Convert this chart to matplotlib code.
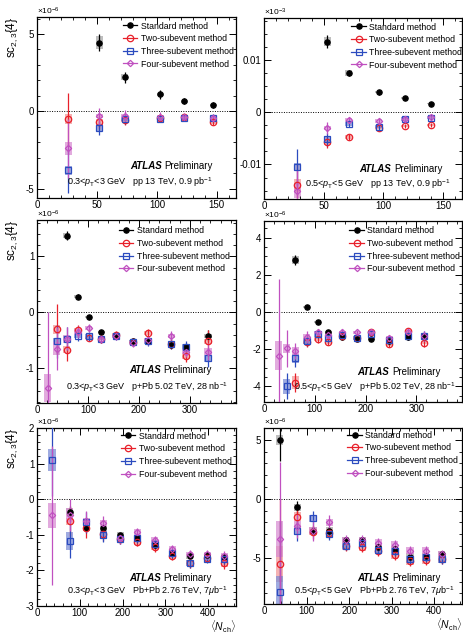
import numpy as np
import matplotlib
matplotlib.use('Agg')
import matplotlib.pyplot as plt
from matplotlib.ticker import MultipleLocator, FuncFormatter

plt.rcParams['font.family'] = ['Liberation Sans', 'DejaVu Sans']
plt.rcParams['axes.unicode_minus'] = False
plt.rcParams['mathtext.fontset'] = 'custom'
plt.rcParams['mathtext.rm'] = 'Liberation Sans'
plt.rcParams['mathtext.it'] = 'Liberation Sans:italic'

nan = np.nan

# ---- pp 13 TeV, 0.3<pT<3 GeV (x1e-6)
nch1 = [26, 52, 73, 103, 123, 147]
std1 = [nan, 4.45, 2.2, 1.1, 0.65, 0.4]
std1_stat = [nan, 0.55, 0.35, 0.3, 0.2, 0.2]
std1_sys = [nan, 0.4, 0.2, 0.1, 0.08, 0.08]
two1 = [-0.5, -0.7, -0.55, -0.4, -0.35, -0.7]
two1_stat = [1.7, 0.45, 0.3, 0.2, 0.2, 0.2]
two1_sys = [0.3, 0.2, 0.15, 0.1, 0.1, 0.1]
three1 = [-3.8, -1.05, -0.5, -0.5, -0.4, -0.4]
three1_stat = [1.45, 0.45, 0.3, 0.2, 0.2, 0.2]
three1_sys = [0.3, 0.25, 0.15, 0.1, 0.1, 0.1]
four1 = [-2.4, -0.3, -0.3, -0.35, -0.35, -0.4]
four1_stat = [1.9, 0.55, 0.4, 0.3, 0.25, 0.2]
four1_sys = [0.4, 0.15, 0.1, 0.1, 0.1, 0.1]

# ---- pp 13 TeV, 0.5<pT<5 GeV (x1e-3)
nch2 = [28, 53, 71, 96, 118, 140]
std2 = [nan, 0.0135, 0.0075, 0.0038, 0.0027, 0.0016]
std2_stat = [nan, 0.0012, 0.0006, 0.0005, 0.0004, 0.0004]
std2_sys = [nan, 0.0008, 0.0005, 0.0002, 0.0002, 0.0001]
two2 = [-0.014, -0.0057, -0.0047, -0.003, -0.0027, -0.0024]
two2_stat = [0.004, 0.0012, 0.0006, 0.0006, 0.0004, 0.0004]
two2_sys = [0.0012, 0.0005, 0.0004, 0.0003, 0.0002, 0.0002]
three2 = [-0.0105, -0.0052, -0.0022, -0.0028, -0.0013, -0.0011]
three2_stat = [0.0035, 0.0012, 0.0006, 0.0006, 0.0004, 0.0004]
three2_sys = [0.0008, 0.0006, 0.0004, 0.0003, 0.0003, 0.0003]
four2 = [-0.015, -0.003, -0.0015, -0.0017, -0.0013, -0.0009]
four2_stat = [0.004, 0.0012, 0.0006, 0.0006, 0.0004, 0.0004]
four2_sys = [0.0015, 0.0004, 0.0003, 0.0003, 0.0002, 0.0002]

# ---- p+Pb 5.02 TeV, 0.3<pT<3 GeV (x1e-6)
nch3 = [21, 39, 58, 80, 101, 126, 154, 188, 217, 263, 292, 335]
std3 = [nan, nan, 1.37, 0.28, -0.08, -0.35, -0.42, -0.52, -0.52, -0.58, -0.62, -0.42]
std3_stat = [nan, nan, 0.08, 0.05, 0.04, 0.04, 0.04, 0.05, 0.05, 0.06, 0.07, 0.1]
std3_sys = [nan, nan, 0.05, 0.03, 0.02, 0.02, 0.02, 0.02, 0.02, 0.03, 0.03, 0.04]
two3 = [nan, -0.3, -0.67, -0.32, -0.45, -0.47, -0.4, -0.53, -0.37, -0.57, -0.78, -0.52]
two3_stat = [nan, 0.45, 0.2, 0.1, 0.07, 0.07, 0.07, 0.07, 0.08, 0.08, 0.1, 0.2]
two3_sys = [nan, 0.08, 0.06, 0.04, 0.03, 0.03, 0.03, 0.03, 0.04, 0.04, 0.05, 0.05]
three3 = [nan, -0.52, -0.47, -0.42, -0.43, -0.47, -0.43, -0.53, -0.52, -0.57, -0.62, -0.82]
three3_stat = [nan, 0.3, 0.2, 0.1, 0.08, 0.07, 0.07, 0.07, 0.08, 0.08, 0.1, 0.15]
three3_sys = [nan, 0.06, 0.05, 0.04, 0.04, 0.03, 0.03, 0.04, 0.04, 0.04, 0.05, 0.06]
four3 = [-1.35, -0.65, -0.47, -0.35, -0.28, -0.47, -0.42, -0.55, -0.5, -0.42, -0.7, -0.7]
four3_stat = [1.35, 0.38, 0.2, 0.1, 0.08, 0.07, 0.07, 0.07, 0.08, 0.08, 0.1, 0.15]
four3_sys = [0.25, 0.12, 0.07, 0.05, 0.04, 0.03, 0.03, 0.03, 0.04, 0.04, 0.05, 0.06]

# ---- p+Pb 5.02 TeV, 0.5<pT<5 GeV (x1e-6)
nch4 = [29, 45, 62, 84, 106, 127, 154, 183, 211, 247, 284, 316]
std4 = [nan, nan, 2.8, 0.28, -0.55, -1.1, -1.35, -1.45, -1.45, -1.55, -1.35, -1.3]
std4_stat = [nan, nan, 0.25, 0.1, 0.1, 0.1, 0.1, 0.1, 0.12, 0.12, 0.15, 0.2]
std4_sys = [nan, nan, 0.2, 0.05, 0.05, 0.05, 0.05, 0.05, 0.05, 0.06, 0.06, 0.06]
two4 = [nan, nan, -3.8, -1.6, -1.45, -1.6, -1.3, -1.4, -1.1, -1.75, -1.05, -1.65]
two4_stat = [nan, nan, 0.5, 0.3, 0.2, 0.2, 0.2, 0.15, 0.15, 0.15, 0.2, 0.25]
two4_sys = [nan, nan, 0.35, 0.15, 0.1, 0.1, 0.1, 0.08, 0.08, 0.08, 0.1, 0.1]
three4 = [nan, -4.0, -2.5, -1.55, -1.2, -1.4, -1.25, -1.4, -1.2, -1.5, -1.3, -1.3]
three4_stat = [nan, 0.7, 0.45, 0.3, 0.2, 0.2, 0.2, 0.15, 0.15, 0.15, 0.2, 0.25]
three4_sys = [nan, 0.4, 0.25, 0.15, 0.15, 0.1, 0.1, 0.1, 0.08, 0.08, 0.1, 0.1]
four4 = [-2.35, -1.95, -2.1, -1.35, -1.1, -1.25, -1.1, -1.1, -1.1, -1.4, -1.1, -1.3]
four4_stat = [4.1, 1.0, 0.45, 0.3, 0.2, 0.2, 0.2, 0.15, 0.15, 0.15, 0.2, 0.25]
four4_sys = [0.8, 0.25, 0.2, 0.15, 0.1, 0.1, 0.1, 0.08, 0.08, 0.08, 0.1, 0.1]

# ---- Pb+Pb 2.76 TeV, 0.3<pT<3 GeV (x1e-6)
nch5 = [35, 76, 115, 155, 195, 234, 275, 316, 357, 398, 438]
std5 = [nan, -0.35, -0.8, -0.82, -1.0, -1.08, -1.3, -1.5, -1.6, -1.58, -1.62]
std5_stat = [nan, 0.15, 0.1, 0.08, 0.06, 0.06, 0.06, 0.06, 0.06, 0.07, 0.08]
std5_sys = [nan, 0.1, 0.08, 0.08, 0.07, 0.07, 0.07, 0.07, 0.07, 0.07, 0.08]
two5 = [nan, -0.62, -0.8, -0.98, -1.12, -1.2, -1.35, -1.6, -1.8, -1.65, -1.8]
two5_stat = [nan, 0.4, 0.3, 0.2, 0.15, 0.12, 0.12, 0.12, 0.12, 0.12, 0.15]
two5_sys = [nan, 0.1, 0.08, 0.08, 0.08, 0.08, 0.08, 0.08, 0.08, 0.08, 0.1]
three5 = [1.1, -1.18, -0.65, -1.0, -1.12, -1.1, -1.25, -1.52, -1.8, -1.68, -1.68]
three5_stat = [1.0, 0.48, 0.3, 0.2, 0.15, 0.12, 0.12, 0.12, 0.12, 0.12, 0.15]
three5_sys = [0.3, 0.25, 0.1, 0.1, 0.08, 0.08, 0.1, 0.1, 0.08, 0.08, 0.1]
four5 = [-0.45, -0.45, -0.62, -0.68, -1.1, -0.92, -1.15, -1.4, -1.55, -1.55, -1.6]
four5_stat = [1.95, 0.45, 0.3, 0.2, 0.15, 0.12, 0.12, 0.12, 0.12, 0.12, 0.15]
four5_sys = [0.35, 0.2, 0.1, 0.1, 0.08, 0.08, 0.08, 0.08, 0.08, 0.08, 0.1]

# ---- Pb+Pb 2.76 TeV, 0.5<pT<5 GeV (x1e-6)
nch6 = [37, 78, 115, 153, 192, 231, 268, 307, 343, 380, 417]
std6 = [5.0, -0.7, -2.7, -2.7, -3.5, -3.5, -4.1, -4.25, -4.9, -4.85, -4.7]
std6_stat = [1.8, 0.5, 0.4, 0.35, 0.3, 0.3, 0.3, 0.3, 0.3, 0.3, 0.3]
std6_sys = [0.4, 0.3, 0.3, 0.3, 0.3, 0.3, 0.3, 0.3, 0.3, 0.3, 0.3]
two6 = [-5.5, -1.5, -2.8, -2.85, -4.0, -4.1, -4.4, -4.75, -5.3, -5.2, -5.1]
two6_stat = [5.5, 0.8, 0.6, 0.5, 0.4, 0.4, 0.4, 0.4, 0.4, 0.4, 0.4]
two6_sys = [1.5, 0.4, 0.3, 0.3, 0.3, 0.3, 0.3, 0.3, 0.3, 0.3, 0.3]
three6 = [-7.9, -2.7, -1.65, -2.95, -3.95, -3.75, -4.3, -4.45, -5.1, -4.95, -5.1]
three6_stat = [6.0, 0.9, 0.6, 0.5, 0.4, 0.4, 0.4, 0.4, 0.4, 0.4, 0.4]
three6_sys = [1.4, 0.4, 0.3, 0.3, 0.3, 0.3, 0.3, 0.3, 0.3, 0.3, 0.3]
four6 = [-3.4, -2.3, -2.7, -2.0, -3.5, -3.5, -3.7, -3.9, -4.4, -4.4, -4.7]
four6_stat = [6.5, 1.0, 0.9, 0.6, 0.4, 0.4, 0.4, 0.4, 0.4, 0.4, 0.4]
four6_sys = [1.5, 0.4, 0.3, 0.3, 0.3, 0.3, 0.3, 0.3, 0.3, 0.3, 0.3]

labels = ['Standard method', 'Two-subevent method', 'Three-subevent method', 'Four-subevent method']
colors = ['black', '#e8202a', '#2b4bbf', '#c050c0']
box_colors = ['#a8a8a8', '#f29a9a', '#7f8fd6', '#d98fd3']
markers = ['o', 'o', 's', 'D']
msizes = [3.8, 4.6, 4.6, 3.2]
fills = ['black', 'none', 'none', 'none']

panels = [
    dict(nch=nch1, series=[(std1, std1_stat, std1_sys), (two1, two1_stat, two1_sys),
                           (three1, three1_stat, three1_sys), (four1, four1_stat, four1_sys)],
         xlim=(0, 166), ylim=(-5.6, 6.1), xmaj=50, xmin=10, ymaj=5, ymin=1, exp='-6',
         text1=(0.885, 0.177), text2=(0.885, 0.09), leg=(0.43, 0.975),
         cond=r'0.3<$p_{\rm T}$<3 GeV   pp 13 TeV, 0.9 pb$^{-1}$'),
    dict(nch=nch2, series=[(std2, std2_stat, std2_sys), (two2, two2_stat, two2_sys),
                           (three2, three2_stat, three2_sys), (four2, four2_stat, four2_sys)],
         xlim=(0, 166), ylim=(-0.0166, 0.018), xmaj=50, xmin=10, ymaj=0.01, ymin=0.0025, exp='-3',
         text1=(0.9, 0.166), text2=(0.94, 0.083), leg=(0.44, 0.975),
         cond=r'0.5<$p_{\rm T}$<5 GeV   pp 13 TeV, 0.9 pb$^{-1}$'),
    dict(nch=nch3, series=[(std3, std3_stat, std3_sys), (two3, two3_stat, two3_sys),
                           (three3, three3_stat, three3_sys), (four3, four3_stat, four3_sys)],
         xlim=(0, 390), ylim=(-1.62, 1.65), xmaj=100, xmin=20, ymaj=1, ymin=0.2, exp='-6',
         text1=(0.88, 0.178), text2=(0.96, 0.086), leg=(0.41, 0.965),
         cond=r'0.3<$p_{\rm T}$<3 GeV   p+Pb 5.02 TeV, 28 nb$^{-1}$'),
    dict(nch=nch4, series=[(std4, std4_stat, std4_sys), (two4, two4_stat, two4_sys),
                           (three4, three4_stat, three4_sys), (four4, four4_stat, four4_sys)],
         xlim=(0, 390), ylim=(-4.85, 4.9), xmaj=100, xmin=20, ymaj=2, ymin=0.5, exp='-6',
         text1=(0.89, 0.165), text2=(0.97, 0.08), leg=(0.43, 0.97),
         cond=r'0.5<$p_{\rm T}$<5 GeV   p+Pb 5.02 TeV, 28 nb$^{-1}$'),
    dict(nch=nch5, series=[(std5, std5_stat, std5_sys), (two5, two5_stat, two5_sys),
                           (three5, three5_stat, three5_sys), (four5, four5_stat, four5_sys)],
         xlim=(0, 465), ylim=(-3, 2), xmaj=100, xmin=20, ymaj=1, ymin=0.2, exp='-6',
         text1=(0.88, 0.156), text2=(0.955, 0.084), leg=(0.42, 0.98),
         cond=r'0.3<$p_{\rm T}$<3 GeV   Pb+Pb 2.76 TeV, 7$\mu$b$^{-1}$'),
    dict(nch=nch6, series=[(std6, std6_stat, std6_sys), (two6, two6_stat, two6_sys),
                           (three6, three6_stat, three6_sys), (four6, four6_stat, four6_sys)],
         xlim=(0, 465), ylim=(-8.9, 6.0), xmaj=100, xmin=20, ymaj=5, ymin=1, exp='-6',
         text1=(0.89, 0.147), text2=(0.96, 0.073), leg=(0.42, 0.985),
         cond=r'0.5<$p_{\rm T}$<5 GeV   Pb+Pb 2.76 TeV, 7$\mu$b$^{-1}$'),
]

# axes boxes in pixels: left, top, right, bottom
W, H = 463, 635
boxes = [(37, 17, 236, 198), (264, 18, 462, 199),
         (37, 220, 236, 403), (264, 221, 462, 402),
         (37, 428, 236, 606), (264, 428, 462, 604)]

fig = plt.figure(figsize=(W / 100, H / 100), dpi=100)

for i, (p, b) in enumerate(zip(panels, boxes)):
    ax = fig.add_axes([b[0] / W, 1 - b[3] / H, (b[2] - b[0]) / W, (b[3] - b[1]) / H])
    x = np.array(p['nch'], dtype=float)
    bw = 0.036 * p['xlim'][1]
    handles = []
    for k, (y, st, sy) in enumerate(p['series']):
        y = np.array(y, dtype=float)
        st = np.array(st, dtype=float)
        sy = np.array(sy, dtype=float)
        ok = ~np.isnan(y)
        ax.bar(x[ok], 2 * sy[ok], bottom=y[ok] - sy[ok], width=bw, color=box_colors[k],
               alpha=0.75, linewidth=0, zorder=1 + k * 0.1)
        ax.errorbar(x[ok], y[ok], yerr=st[ok], fmt='none', ecolor=colors[k], elinewidth=0.9,
                    capsize=0, zorder=3)
        ax.plot(x[ok], y[ok], ls='none', marker=markers[k], ms=msizes[k], mfc=fills[k],
                mec=colors[k], mew=0.9, zorder=4)
        handles.append(plt.Line2D([], [], color=colors[k], lw=0.9, marker=markers[k],
                                  ms=msizes[k], mfc=fills[k], mec=colors[k], mew=0.9))
    ax.axhline(0, color='black', ls=(0, (1, 1.5)), lw=0.7, zorder=2)
    ax.set_xlim(*p['xlim'])
    ax.set_ylim(*p['ylim'])
    ax.xaxis.set_major_locator(MultipleLocator(p['xmaj']))
    ax.xaxis.set_minor_locator(MultipleLocator(p['xmin']))
    ax.yaxis.set_major_locator(MultipleLocator(p['ymaj']))
    ax.yaxis.set_minor_locator(MultipleLocator(p['ymin']))
    fmt = FuncFormatter(lambda v, pos: '%g' % round(v, 6))
    ax.xaxis.set_major_formatter(fmt)
    ax.yaxis.set_major_formatter(fmt)
    ax.tick_params(which='both', direction='in', top=True, right=True, labelsize=7)
    ax.tick_params(axis='x', pad=1.5)
    ax.tick_params(axis='y', pad=2)
    ax.tick_params(which='major', length=5, width=0.7)
    ax.tick_params(which='minor', length=2.5, width=0.6)
    for s in ax.spines.values():
        s.set_linewidth(0.9)

    ax.text(0.0, 1.0, r'$\times$10$^{' + p['exp'] + '}$', transform=ax.transAxes,
            fontsize=6, ha='left', va='bottom')
    ax.legend(handles, labels, loc='upper left', bbox_to_anchor=p['leg'], frameon=False,
              fontsize=6.3, handlelength=1.7, handletextpad=0.35, labelspacing=0.42,
              borderpad=0, borderaxespad=0)
    tx, ty = p['text1']
    t = ax.text(tx, ty, 'Preliminary', transform=ax.transAxes, fontsize=7,
                ha='right', va='center')
    ax.annotate('ATLAS ', xy=(0, 0.5), xycoords=t, xytext=(0, 0), textcoords='offset points',
                ha='right', va='center', fontsize=7, fontweight='bold', fontstyle='italic')
    cx, cy = p['text2']
    ax.text(cx, cy, p['cond'], transform=ax.transAxes, fontsize=6.5, ha='right', va='center')

    if i % 2 == 0:
        ax.set_ylabel(r'sc$_{2,3}${4}', loc='top', fontsize=8.5, labelpad=4)
    if i >= 4:
        ax.set_xlabel(r'$\langle N_{\rm ch}\rangle$', loc='right', fontsize=7.5, labelpad=0.5)

fig.savefig('out.png', dpi=100)
